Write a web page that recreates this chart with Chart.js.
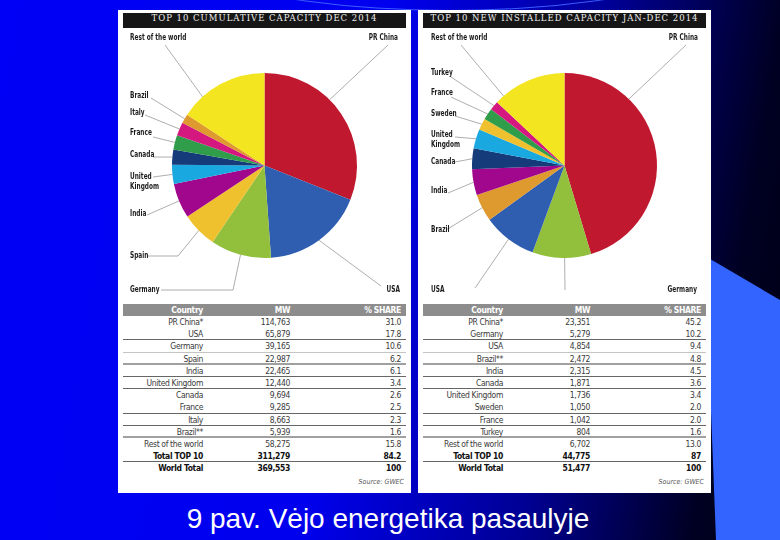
<!DOCTYPE html>
<html>
<head>
<meta charset="utf-8">
<script src="https://cdn.jsdelivr.net/npm/chart.js@4.4.1/dist/chart.umd.min.js"></script>
<style>
  html, body { margin: 0; padding: 0; }
  body {
    width: 780px; height: 540px; overflow: hidden; position: relative;
    background: linear-gradient(100deg, #0000f6 0%, #0000ee 45%, #000095 70%, #000022 90%, #000012 100%);
    font-family: 'Liberation Sans Narrow', 'DejaVu Sans Condensed', 'Liberation Sans', sans-serif;
  }
  .blob {
    position: absolute; left: 0; top: 0; width: 780px; height: 540px; background: #3464ff;
    clip-path: polygon(705px 256px, 780px 300px, 780px 540px, 716px 540px);
  }
  .arc {
    position: absolute; left: -300px; top: -1010px; width: 1500px; height: 1020px;
    border-radius: 50%; border-bottom: 1px solid #3a5cff;
  }
  .panel { position: absolute; top: 10px; width: 293px; height: 483px; background: #fff; }
  .title {
    position: absolute; left: 5px; top: 3px; width: 283px; height: 15px;
    background: #161616; color: #eeeeee; text-align: center; line-height: 15px;
    font: 8.5px 'DejaVu Serif', 'Liberation Serif', serif; letter-spacing: 1px; white-space: nowrap;
  }
  canvas { position: absolute; left: 0; top: 20px; }
  .tbl {
    position: absolute; left: 5px; top: 294px; width: 283px; font-size: 8.5px; color: #3a3a3a;
    letter-spacing: -0.35px; -webkit-font-smoothing: antialiased;
  }
  .row { display: flex; height: 12.2px; line-height: 12px; box-sizing: border-box; }
  .row span { display: block; text-align: right; white-space: nowrap; }
  .row .c1 { width: 80px; }
  .row .c2 { width: 87px; }
  .row .c3 { width: 111px; }
  .head { background: #8d8d8d; color: #fff; font-weight: bold; height: 12px; }
  .d { border-bottom: 1px solid #666; }
  .l { border-bottom: 1px solid #c4c4c4; }
  .t { border-bottom: 2px solid #a0a0a0; }
  .b { font-weight: bold; color: #111; }
  .src { position: absolute; right: 7px; top: 468px; font-size: 7px; font-style: italic; color: #555; }
  .caption {
    position: absolute; left: 0; width: 776px; top: 503px; text-align: center;
    font: 28px 'Liberation Sans', Arial, sans-serif; color: #fff; white-space: nowrap;
  }
</style>
</head>
<body>
<div class="arc"></div>
<div class="blob"></div>

<div class="panel" style="left:118px">
  <div class="title">TOP 10 CUMULATIVE CAPACITY DEC 2014</div>
  <canvas id="pieCum" width="293" height="271"></canvas>
  <div class="tbl" id="tblCum"></div>
  <div class="src">Source: GWEC</div>
</div>

<div class="panel" style="left:418px">
  <div class="title">TOP 10 NEW INSTALLED CAPACITY JAN-DEC 2014</div>
  <canvas id="pieNew" width="293" height="271"></canvas>
  <div class="tbl" id="tblNew"></div>
  <div class="src">Source: GWEC</div>
</div>

<div class="caption">9 pav. Vėjo energetika pasaulyje</div>

<script>
// dados - capacidade acumulada dez 2014
const countriesCum = ['PR China*', 'USA', 'Germany', 'Spain', 'India', 'United Kingdom', 'Canada', 'France', 'Italy', 'Brazil**', 'Rest of the world'];
const mwCum = [114763, 65879, 39165, 22987, 22465, 12440, 9694, 9285, 8663, 5939, 58275];
const shareCum = [31.0, 17.8, 10.6, 6.2, 6.1, 3.4, 2.6, 2.5, 2.3, 1.6, 15.8];
const totalNamesCum = ['Total TOP 10', 'World Total'];
const totalMwCum = [311279, 369553];
const totalShareCum = [84.2, 100];

// dados - nova capacidade instalada jan-dez 2014
const countriesNew = ['PR China*', 'Germany', 'USA', 'Brazil**', 'India', 'Canada', 'United Kingdom', 'Sweden', 'France', 'Turkey', 'Rest of the world'];
const mwNew = [23351, 5279, 4854, 2472, 2315, 1871, 1736, 1050, 1042, 804, 6702];
const shareNew = [45.2, 10.2, 9.4, 4.8, 4.5, 3.6, 3.4, 2.0, 2.0, 1.6, 13.0];
const totalNamesNew = ['Total TOP 10', 'World Total'];
const totalMwNew = [44775, 51477];
const totalShareNew = [87, 100];

// cores por país
const colorOf = {
  'PR China': '#c0182f', 'USA': '#2f5db0', 'Germany': '#93c03c', 'Spain': '#efc12e',
  'India': '#a0078c', 'United Kingdom': '#19a8e0', 'Canada': '#153b7a', 'France': '#2f9d4a',
  'Italy': '#d51880', 'Brazil': '#df9a2f', 'Rest of the world': '#f3e520',
  'Sweden': '#efc12e', 'Turkey': '#d51880'
};

// posição dos rótulos (x,y do texto; sx,sy início da linha guia)
const layoutCum = [
  { x: 280, y: 8, align: 'right', sx: 270, sy: 15, frac: 0.4 },
  { x: 282, y: 260, align: 'right', sx: 263, sy: 256 },
  { x: 12, y: 260, sx: 43, sy: 260, bend: 115 },
  { x: 12, y: 226, sx: 29, sy: 226, bend: 60 },
  { x: 12, y: 184, sx: 29, sy: 185 },
  { x: 12, y: 146.5, sx: 35, sy: 147, wrap: true },
  { x: 12, y: 125, sx: 35, sy: 127 },
  { x: 12, y: 103, sx: 35, sy: 107 },
  { x: 12, y: 83, sx: 27, sy: 85 },
  { x: 12, y: 66, sx: 33, sy: 68 },
  { x: 12, y: 8, sx: 47, sy: 15, frac: 0.26 }
];
const layoutNew = [
  { x: 280, y: 8, align: 'right', sx: 268, sy: 15, frac: 0.27 },
  { x: 279, y: 260, align: 'right', sx: 147, sy: 260, frac: 0.45 },
  { x: 13, y: 260, sx: 57, sy: 258 },
  { x: 13, y: 200, sx: 28, sy: 200 },
  { x: 13, y: 161, sx: 30, sy: 163 },
  { x: 13, y: 131.5, sx: 37, sy: 132 },
  { x: 13, y: 105, sx: 37, sy: 107, wrap: true },
  { x: 13, y: 84, sx: 37, sy: 86 },
  { x: 13, y: 63, sx: 33, sy: 67 },
  { x: 13, y: 42.5, sx: 33, sy: 47 },
  { x: 13, y: 8, sx: 43, sy: 15, frac: 0.12 }
];

// linhas separadoras da tabela
const rowRules = ['', 'd', 'l', 't', 'd', 'd', '', 'd', 'd', 't', '', 'd', ''];

const plain = n => n.replace(/\*/g, '');

// plugin dos rótulos com linha guia
const leaderLabels = {
  id: 'leaderLabels',
  afterDraw(chart, args, opts) {
    const ctx = chart.ctx;
    const arcs = chart.getDatasetMeta(0).data;
    ctx.save();
    ctx.font = "600 8.5px 'Liberation Sans Narrow', 'DejaVu Sans Condensed', sans-serif";
    ctx.textBaseline = 'middle';
    ctx.fillStyle = '#1c1c1c';
    ctx.strokeStyle = '#777';
    ctx.lineWidth = 0.6;
    opts.layout.forEach((lay, i) => {
      const p = arcs[i].getProps(['x', 'y', 'startAngle', 'endAngle', 'outerRadius'], true);
      const f = lay.frac !== undefined ? lay.frac : 0.5;
      const a = p.startAngle + (p.endAngle - p.startAngle) * f;
      const ex = p.x + Math.cos(a) * p.outerRadius;
      const ey = p.y + Math.sin(a) * p.outerRadius;
      ctx.beginPath();
      ctx.moveTo(lay.sx, lay.sy);
      if (lay.bend !== undefined) ctx.lineTo(lay.bend, lay.sy);
      ctx.lineTo(ex, ey);
      ctx.stroke();
      const name = plain(chart.data.labels[i]);
      const parts = lay.wrap ? name.split(' ') : [name];
      ctx.textAlign = lay.align || 'left';
      parts.forEach((w, k) => {
        ctx.save();
        ctx.translate(lay.x, lay.y + k * 10);
        ctx.scale(0.76, 1); // fonte estreita
        ctx.fillText(w, 0, 0);
        ctx.restore();
      });
    });
    ctx.restore();
  }
};

function makePie(id, labels, values, layout) {
  const ctx = document.getElementById(id).getContext('2d');
  return new Chart(ctx, {
    type: 'pie',
    data: {
      labels: labels,
      datasets: [{
        data: values,
        backgroundColor: labels.map(n => colorOf[plain(n)]),
        borderWidth: 0
      }]
    },
    options: {
      responsive: false,
      animation: false,
      layout: { padding: { top: 43, bottom: 43, left: 54, right: 54 } },
      plugins: {
        legend: { display: false },
        tooltip: { enabled: false },
        leaderLabels: { layout: layout }
      }
    },
    plugins: [leaderLabels]
  });
}

function makeTable(id, names, mw, share, tNames, tMw, tShare) {
  const el = document.getElementById(id);
  const cell = (c, t) => '<span class="' + c + '">' + t + '</span>';
  let html = '<div class="row head">' + cell('c1', 'Country') + cell('c2', 'MW') + cell('c3', '% SHARE') + '</div>';
  const allN = names.concat(tNames);
  const allM = mw.concat(tMw);
  const allS = share.map(v => v.toFixed(1)).concat(tShare.map(v => String(v)));
  allN.forEach((n, i) => {
    const cls = (rowRules[i] || '') + (i >= names.length ? ' b' : '');
    html += '<div class="row ' + cls + '">' + cell('c1', n) +
      cell('c2', allM[i].toLocaleString('en-US')) + cell('c3', allS[i]) + '</div>';
  });
  el.innerHTML = html;
}

makePie('pieCum', countriesCum, mwCum, layoutCum);
makePie('pieNew', countriesNew, mwNew, layoutNew);
makeTable('tblCum', countriesCum, mwCum, shareCum, totalNamesCum, totalMwCum, totalShareCum);
makeTable('tblNew', countriesNew, mwNew, shareNew, totalNamesNew, totalMwNew, totalShareNew);
</script>
</body>
</html>
